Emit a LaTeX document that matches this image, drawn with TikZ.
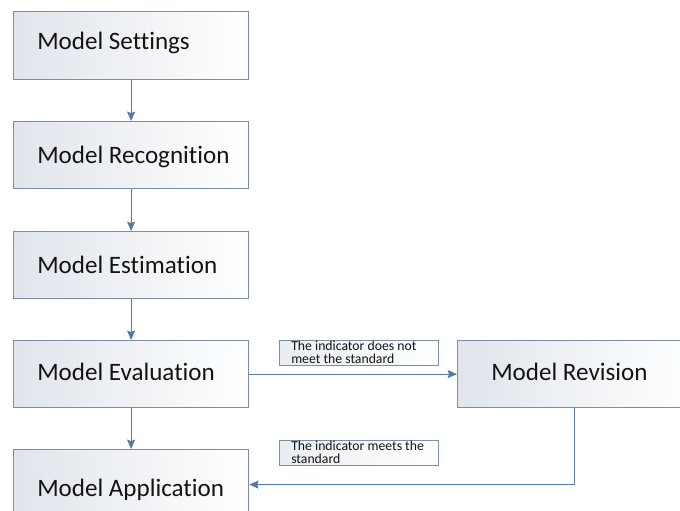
\documentclass[tikz,border=0pt]{standalone}
\usepackage{fontspec}
\setmainfont{Carlito}[Ligatures={NoCommon}]
\usetikzlibrary{arrows.meta}
\definecolor{boxline}{HTML}{7A8EA6}
\definecolor{arrowc}{HTML}{5479A2}
\definecolor{shadel}{HTML}{E0E5EC}
\definecolor{txt}{HTML}{141414}
\begin{document}
\begin{tikzpicture}[x=0.75pt,y=-0.75pt,
  stepbox/.style={draw=boxline, line width=0.9pt, left color=shadel, right color=white,
    minimum width=176.25pt, minimum height=50.25pt, anchor=north west, inner sep=0pt},
  notebox/.style={draw=boxline, line width=0.8pt, left color=shadel!70, right color=white,
    minimum width=119.25pt, minimum height=18.75pt, anchor=north west, inner sep=0pt},
  steplbl/.style={anchor=west, inner sep=0pt, text=txt, font=\fontsize{18.8}{22}\selectfont},
  notelbl/.style={anchor=north west, inner sep=0pt, align=left, text=txt,
    font=\fontsize{10.3}{9.9}\selectfont},
  arr/.style={draw=arrowc, line width=0.9pt, -{Stealth[length=7pt,width=6pt,inset=1pt]}}
]
\useasboundingbox (0,0) rectangle (680,510);
\clip (0,0) rectangle (680,510);
\node[stepbox, minimum height=51pt] (b1) at (13,11) {};
\node[stepbox] (b2) at (13,121) {};
\node[stepbox] (b3) at (13,231) {};
\node[stepbox] (b4) at (13,340) {};
\node[stepbox, minimum height=52.5pt] (b5) at (13,449) {};
\node[stepbox, minimum width=175.5pt] (rev) at (457,340) {};
\node[steplbl] (t1) at (37,43) {Model Settings};
\node[steplbl] (t2) at (37,157) {Model Recognition};
\node[steplbl] (t3) at (37,265) {Model Estimation};
\node[steplbl] (t4) at (37,372) {Model Evaluation};
\node[steplbl] (t5) at (37,490) {Model Application};
\node[steplbl] (t6) at (491,372) {Model Revision};
\node[notebox] (n1) at (279,340) {};
\node[notelbl] (n1t) at (291,340.5) {The indicator does not\\meet the standard};
\node[notebox] (n2) at (279,440) {};
\node[notelbl] (n2t) at (291,440.5) {The indicator meets the\\standard};
\draw[arr] (b1.south) -- (b2.north);
\draw[arr] (b2.south) -- (b3.north);
\draw[arr] (b3.south) -- (b4.north);
\draw[arr] (b4.south) -- (b5.north);
\draw[arr] (b4.east) -- (rev.west);
\draw[arr] (rev.south) |- (b5.east);
\end{tikzpicture}
\end{document}
